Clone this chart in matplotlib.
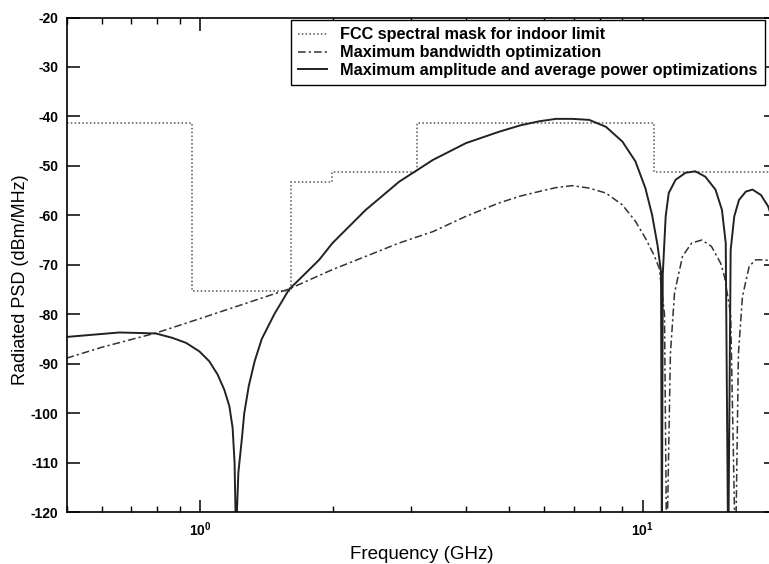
import numpy as np
import matplotlib
matplotlib.use("Agg")
import matplotlib.pyplot as plt
from matplotlib.ticker import LogLocator, MultipleLocator, NullFormatter

plt.rcParams['font.family'] = ['Liberation Sans', 'DejaVu Sans']
plt.rcParams['mathtext.default'] = 'regular'
plt.rcParams['axes.unicode_minus'] = False

# FCC indoor mask (GHz edges, dBm/MHz levels)
fcc_edges = [0.5, 0.96, 1.61, 1.99, 3.1, 10.6, 20.0]
fcc_levels = [-41.3, -75.3, -53.3, -51.3, -41.3, -51.3]

# Maximum bandwidth optimization (dash-dot)
bw_f = [0.5, 0.6, 0.796, 1.0, 1.59, 1.99, 2.37, 2.82, 3.36, 3.99, 4.74, 5.3,
        5.83, 6.37, 6.93, 7.57, 8.26, 9.0, 9.63, 10.14, 10.6, 10.9, 11.2,
        11.33, 11.55, 11.8, 12.3, 12.9, 13.6, 14.3, 15.0, 15.3, 15.8, 16.2,
        16.45, 16.8, 17.4, 18.0, 18.9, 20.0]
bw_psd = [-88.9, -86.7, -83.8, -80.9, -74.9, -71.0, -68.3, -65.6, -63.3, -60.2,
          -57.5, -56.1, -55.2, -54.4, -54.0, -54.5, -55.5, -57.9, -61.2, -64.6,
          -68.0, -70.7, -80.0, -130.0, -88.0, -75.7, -68.3, -65.6, -65.0,
          -66.3, -69.7, -72.4, -80.0, -130.0, -88.0, -76.4, -70.3, -69.0,
          -69.0, -69.5]

# Maximum amplitude and average power optimizations (solid)
amp_f = [0.5, 0.6, 0.658, 0.73, 0.796, 0.868, 0.931, 0.997, 1.05, 1.097,
         1.136, 1.166, 1.186, 1.198, 1.207, 1.222, 1.245, 1.26, 1.29, 1.33,
         1.38, 1.473, 1.59, 1.676, 1.86, 1.994, 2.37, 2.82, 3.36, 3.99, 4.74,
         5.3, 5.83, 6.37, 6.93, 7.57, 8.26, 9.0, 9.63, 10.14, 10.5, 10.8,
         11.0, 11.05, 11.1, 11.27, 11.45, 11.87, 12.5, 13.15, 13.85, 14.6,
         15.1, 15.4, 15.6, 15.8, 16.1, 16.5, 17.1, 17.7, 18.5, 19.2, 20.0]
amp_psd = [-84.6, -84.0, -83.7, -83.8, -83.9, -84.8, -85.8, -87.5, -89.5,
           -92.2, -95.3, -98.6, -103.0, -110.0, -125.0, -112.0, -105.0,
           -100.0, -94.5, -89.5, -85.0, -80.0, -75.0, -73.0, -69.0, -65.6,
           -58.9, -53.2, -48.8, -45.4, -43.1, -41.8, -41.0, -40.5, -40.5,
           -40.7, -42.1, -45.1, -49.1, -54.5, -59.9, -66.0, -71.4, -130.0,
           -72.0, -60.2, -55.5, -52.8, -51.4, -51.1, -52.2, -54.8, -58.9,
           -65.6, -130.0, -67.0, -60.2, -56.9, -55.2, -54.8, -55.9, -58.2,
           -63.0]

fig = plt.figure(figsize=(7.69, 5.64), dpi=100)
ax = fig.add_axes([66.5 / 769, 52 / 564, (776 - 66.5) / 769, (512 - 17.5) / 564])

ax.stairs(fcc_levels, fcc_edges, baseline=None, color='#555555',
          linestyle=(0, (1, 1.5)), linewidth=1.1,
          label='FCC spectral mask for indoor limit')
ax.plot(bw_f, bw_psd, color='#333333', linewidth=1.1,
        dashes=(5, 2, 1.5, 2), label='Maximum bandwidth optimization')
ax.plot(amp_f, amp_psd, color='#222222', linewidth=1.4,
        label='Maximum amplitude and average power optimizations')

ax.set_xscale('log')
ax.set_xlim(0.5, 20)
ax.set_ylim(-120, -20)
ax.yaxis.set_major_locator(MultipleLocator(10))
ax.xaxis.set_major_locator(LogLocator(base=10, numticks=10))
ax.xaxis.set_minor_locator(LogLocator(base=10, subs=np.arange(2, 10), numticks=10))
ax.xaxis.set_minor_formatter(NullFormatter())

ax.tick_params(which='both', direction='in', top=True, right=True)
ax.tick_params(which='major', length=9, width=1.1, labelsize=10, pad=6)
ax.tick_params(which='minor', length=4, width=1.0)
for lbl in ax.get_xticklabels() + ax.get_yticklabels():
    lbl.set_fontweight('bold')
for sp in ax.spines.values():
    sp.set_linewidth(1.2)

ax.set_xlabel('Frequency (GHz)', fontsize=13.5, labelpad=5)
ax.set_ylabel('Radiated PSD (dBm/MHz)', fontsize=13)
ax.yaxis.set_label_coords(-0.053, 0.47)

leg = ax.legend(loc='upper right', bbox_to_anchor=(765 / 769, (564 - 20) / 564),
                bbox_transform=fig.transFigure, borderaxespad=0, fancybox=False,
                framealpha=1, edgecolor='black', handlelength=1.8,
                handletextpad=0.8, labelspacing=0.18, borderpad=0.45,
                prop={'weight': 'bold', 'size': 11.7})
leg.get_frame().set_linewidth(1.0)

fig.savefig('out.png', dpi=100)
